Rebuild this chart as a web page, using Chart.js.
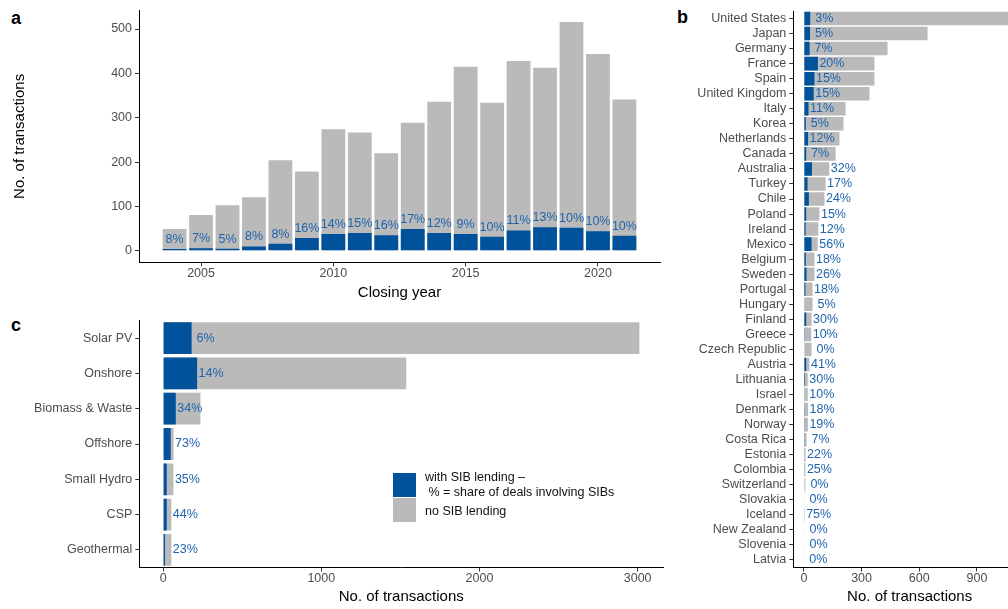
<!DOCTYPE html>
<html>
<head>
<meta charset="utf-8">
<script src="https://cdn.jsdelivr.net/npm/chart.js@4.4.1/dist/chart.umd.min.js"></script>
<style>
    html, body { margin: 0; padding: 0; background: #ffffff; }
    body { position: relative; width: 1008px; height: 609px; overflow: hidden; }
    canvas { position: absolute; }
    .tag { position: absolute; font: bold 18px 'Liberation Sans', Arial, sans-serif; line-height: 18px; color: #000; }
    .key-box { position: absolute; width: 23px; height: 24px; }
    .key-text { position: absolute; font: 12.5px 'Liberation Sans', Arial, sans-serif; line-height: 14px; color: #111; white-space: pre; }
</style>
</head>
<body>
<div class="tag" style="left:11px;top:9px">a</div>
<div class="tag" style="left:677px;top:8px">b</div>
<div class="tag" style="left:11px;top:316px">c</div>

<canvas id="yearChart" width="670" height="305" style="left:0;top:0"></canvas>
<canvas id="countryChart" width="345" height="609" style="left:690px;top:0"></canvas>
<canvas id="techChart" width="670" height="299" style="left:0;top:310px"></canvas>
<div id="legend"></div>

<script>
// colours
const BLUE = '#00529b';
const GREY = '#bababa';
const LABEL_BLUE = '#1f63ad';
const TICK_GREY = '#4d4d4d';

// a: transactions by closing year
const years = [2004, 2005, 2006, 2007, 2008, 2009, 2010, 2011, 2012, 2013, 2014, 2015, 2016, 2017, 2018, 2019, 2020, 2021];
const yearTotal = [49, 81, 103, 121, 204, 179, 274, 267, 220, 289, 336, 415, 334, 428, 413, 516, 444, 341];
const yearSib = [4, 6, 5, 10, 16, 29, 38, 40, 35, 49, 40, 38, 32, 46, 53, 52, 44, 34];
const yearPct = [8, 7, 5, 8, 8, 16, 14, 15, 16, 17, 12, 9, 10, 11, 13, 10, 10, 10];
const yearTicks = [2005, 2010, 2015, 2020];
const yearCountTicks = [0, 100, 200, 300, 400, 500];

// b: transactions by country
const countries = ['United States', 'Japan', 'Germany', 'France', 'Spain', 'United Kingdom', 'Italy', 'Korea',
    'Netherlands', 'Canada', 'Australia', 'Turkey', 'Chile', 'Poland', 'Ireland', 'Mexico', 'Belgium', 'Sweden',
    'Portugal', 'Hungary', 'Finland', 'Greece', 'Czech Republic', 'Austria', 'Lithuania', 'Israel', 'Denmark',
    'Norway', 'Costa Rica', 'Estonia', 'Colombia', 'Switzerland', 'Slovakia', 'Iceland', 'New Zealand', 'Slovenia', 'Latvia'];
const countryTotal = [1100, 643, 435, 367, 367, 341, 217, 206, 185, 165, 132, 113, 107, 81, 75, 72, 55, 55,
    45, 45, 40, 38, 40, 29, 20, 20, 22, 21, 14, 9, 8, 8, 3, 4, 3, 3, 2];
const countrySib = [33, 32, 30, 73, 55, 51, 24, 10, 22, 12, 42, 19, 26, 12, 9, 40, 10, 14,
    8, 2, 12, 4, 0, 12, 6, 2, 4, 4, 1, 2, 2, 0, 0, 3, 0, 0, 0];
const countryPct = [3, 5, 7, 20, 15, 15, 11, 5, 12, 7, 32, 17, 24, 15, 12, 56, 18, 26,
    18, 5, 30, 10, 0, 41, 30, 10, 18, 19, 7, 22, 25, 0, 0, 75, 0, 0, 0];
const countryTicks = [0, 300, 600, 900];

// c: transactions by technology
const techs = ['Solar PV', 'Onshore', 'Biomass & Waste', 'Offshore', 'Small Hydro', 'CSP', 'Geothermal'];
const techTotal = [3011, 1537, 236, 66, 65, 52, 52];
const techSib = [180, 215, 80, 48, 23, 23, 12];
const techPct = [6, 14, 34, 73, 35, 44, 23];
const techTicks = [0, 1000, 2000, 3000];

const legendLabels = ['with SIB lending \u2013\n % = share of deals involving SIBs', 'no SIB lending'];
const axisTitle = 'No. of transactions';

Chart.defaults.font.family = "'Liberation Sans', Arial, sans-serif";
Chart.defaults.font.size = 12.5;
Chart.defaults.color = TICK_GREY;
Chart.defaults.animation = false;

// ggplot-like axis: black line, short dark ticks, no grid
function axis(tickValues, fixedSize, extra) {
    return Object.assign({
        bounds: 'data',
        grid: { display: true, drawOnChartArea: false, drawTicks: true, tickLength: 4, color: '#333333', lineWidth: 1, offset: false },
        border: { display: true, color: '#000000', width: 1 },
        ticks: { color: TICK_GREY, padding: 0, autoSkip: false, callback: v => String(v) },
        afterBuildTicks: tickValues ? (a => { a.ticks = tickValues.map(v => ({ value: v })); }) : undefined,
        afterFit: s => { if (s.isHorizontal()) s.height = fixedSize; else s.width = fixedSize; }
    }, extra);
}

function title(text, pad) {
    return { display: true, text: text, color: '#000000', font: { size: 15 }, padding: pad };
}

// percent labels above the blue part of each column
const topLabels = {
    id: 'topLabels',
    afterDatasetsDraw(chart) {
        const ctx = chart.ctx;
        const bars = chart.getDatasetMeta(0).data;
        ctx.save();
        ctx.font = "12.5px 'Liberation Sans', Arial, sans-serif";
        ctx.fillStyle = LABEL_BLUE;
        ctx.textAlign = 'center';
        ctx.textBaseline = 'alphabetic';
        bars.forEach((bar, i) => ctx.fillText(yearPct[i] + '%', bar.x, bar.y - 6));
        ctx.restore();
    }
};

// percent labels beside horizontal bars: after the blue part if there is room, else after the grey bar
function sideLabels(pcts) {
    return {
        id: 'sideLabels',
        afterDatasetsDraw(chart) {
            const ctx = chart.ctx;
            const sibBars = chart.getDatasetMeta(0).data;
            const totalBars = chart.getDatasetMeta(1).data;
            ctx.save();
            ctx.font = "12.5px 'Liberation Sans', Arial, sans-serif";
            ctx.fillStyle = LABEL_BLUE;
            ctx.textAlign = 'left';
            ctx.textBaseline = 'middle';
            sibBars.forEach((bar, i) => {
                const text = String(pcts[i]).padStart(2, ' ') + '%';
                const w = ctx.measureText(text).width;
                const room = totalBars[i].x - bar.x;
                const x = room >= 0.85 * w ? bar.x : totalBars[i].x;
                ctx.fillText(text, x + 1.5, bar.y);
            });
            ctx.restore();
        }
    };
}

function barSets(sib, total, toPoint) {
    const conv = toPoint || (d => d);
    return [
        { data: conv(sib), backgroundColor: BLUE, grouped: false, categoryPercentage: 1, barPercentage: 0.9 },
        { data: conv(total), backgroundColor: GREY, grouped: false, categoryPercentage: 1, barPercentage: 0.9 }
    ];
}

const noPlugins = { legend: { display: false }, tooltip: { enabled: false } };

// a
const yearMax = Math.max(...yearTotal);
const yearSpan = (years[years.length - 1] + 0.45) - (years[0] - 0.45);
new Chart(document.getElementById('yearChart'), {
    type: 'bar',
    data: {
        datasets: barSets(yearSib, yearTotal, arr => arr.map((v, i) => ({ x: years[i], y: v })))
    },
    options: {
        responsive: false,
        layout: { padding: { top: 8.3, right: 10, bottom: 0, left: 0 } },
        plugins: noPlugins,
        scales: {
            x: axis(yearTicks, 42.7, {
                type: 'linear',
                offset: false,
                min: years[0] - 0.45 - 0.05 * yearSpan,
                max: years[years.length - 1] + 0.45 + 0.05 * yearSpan,
                title: title('Closing year', { top: 0, bottom: 3 })
            }),
            y: axis(yearCountTicks, 139, {
                type: 'linear',
                min: -0.05 * yearMax,
                max: 1.05 * yearMax,
                ticks: { color: TICK_GREY, padding: 3, callback: v => String(v) },
                title: title(axisTitle, { top: 11, bottom: 0 })
            })
        }
    },
    plugins: [topLabels]
});

// b
const countryMax = Math.max(...countryTotal);
new Chart(document.getElementById('countryChart'), {
    type: 'bar',
    data: { labels: countries, datasets: barSets(countrySib, countryTotal) },
    options: {
        responsive: false,
        indexAxis: 'y',
        layout: { padding: { top: 11, right: 9, bottom: 0, left: 0 } },
        plugins: noPlugins,
        scales: {
            x: axis(countryTicks, 41.5, {
                type: 'linear',
                min: -0.05 * countryMax,
                max: 1.05 * countryMax,
                title: title(axisTitle, { top: 0, bottom: 3 })
            }),
            y: axis(null, 103.3, {
                type: 'category',
                offset: true,
                ticks: { color: TICK_GREY, padding: 3, autoSkip: false }
            })
        }
    },
    plugins: [sideLabels(countryPct)]
});

// c
const techMax = Math.max(...techTotal);
new Chart(document.getElementById('techChart'), {
    type: 'bar',
    data: { labels: techs, datasets: barSets(techSib, techTotal) },
    options: {
        responsive: false,
        indexAxis: 'y',
        layout: { padding: { top: 9.5, right: 6.8, bottom: 0, left: 0 } },
        plugins: noPlugins,
        scales: {
            x: axis(techTicks, 41.5, {
                type: 'linear',
                min: -0.05 * techMax,
                max: 1.05 * techMax,
                title: title(axisTitle, { top: 0, bottom: 3 })
            }),
            y: axis(null, 139.3, {
                type: 'category',
                offset: true,
                ticks: { color: TICK_GREY, padding: 3, autoSkip: false }
            })
        }
    },
    plugins: [sideLabels(techPct)]
});

// legend for panel c
const legend = document.getElementById('legend');
[BLUE, GREY].forEach((colour, i) => {
    const box = document.createElement('div');
    box.className = 'key-box';
    box.style.background = colour;
    box.style.left = '393px';
    box.style.top = (473 + i * 24.5) + 'px';
    legend.appendChild(box);
});
const textTops = [[470.3, 485], [503.7]];
legendLabels.forEach((label, i) => {
    label.split('\n').forEach((line, j) => {
        const t = document.createElement('div');
        t.className = 'key-text';
        t.textContent = line;
        t.style.left = '425px';
        t.style.top = textTops[i][j] + 'px';
        legend.appendChild(t);
    });
});
</script>
</body>
</html>
